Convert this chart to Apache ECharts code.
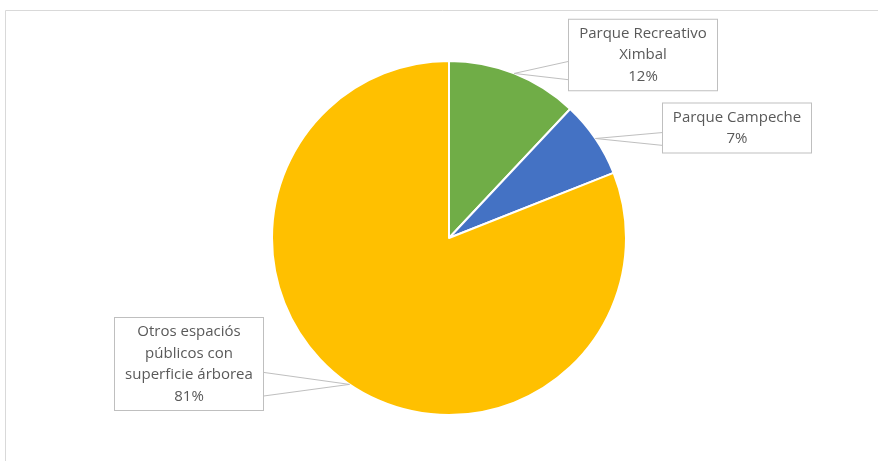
<!DOCTYPE html>
<html>
<head>
<meta charset="utf-8">
<script src="https://cdn.jsdelivr.net/npm/echarts@6/dist/echarts.min.js"></script>
<style>
html,body{margin:0;padding:0;background:#fff;}
#chart{width:878px;height:461px;}
</style>
</head>
<body>
<div id="chart"></div>
<script>
var categories = ['Parque Recreativo\nXimbal', 'Parque Campeche', 'Otros espaciós\npúblicos con\nsuperficie árborea'];
var values = [12, 7, 81];
var colors = ['#70AD47', '#4472C4', '#FFC000'];

// label box centres (layout only)
var labelPos = [[643, 55], [737, 128], [189, 364]];
// callout base span as fraction of box height (layout only)
var calloutSpan = [0.59, 0.84];

var chart = echarts.init(document.getElementById('chart'), null, {renderer: 'canvas'});
var option = {
  animation: false,
  backgroundColor: '#ffffff',
  graphic: [{
    id: 'frame', type: 'rect', silent: true, z: -1,
    shape: {x: 5.5, y: 10.5, width: 1000, height: 1000},
    style: {fill: 'none', stroke: '#D9D9D9', lineWidth: 1}
  }],
  series: [{
    type: 'pie',
    center: [449, 238],
    radius: 177,
    startAngle: 90,
    clockwise: true,
    data: categories.map(function (c, i) {
      return {name: c, value: values[i], itemStyle: {color: colors[i]}};
    }),
    itemStyle: {borderColor: '#ffffff', borderWidth: 2},
    label: {
      show: true,
      formatter: function (p) { return p.name + '\n' + p.value + '%'; },
      fontFamily: 'Open Sans',
      fontSize: 15,
      color: '#595959',
      lineHeight: 21.5,
      align: 'center',
      width: 134,
      padding: [3, 7, 3, 7],
      backgroundColor: '#ffffff',
      borderColor: '#BFBFBF',
      borderWidth: 1
    },
    labelLine: {show: false},
    labelLayout: function (params) {
      var p = labelPos[params.dataIndex];
      return {x: p[0], y: p[1], align: 'center', verticalAlign: 'middle'};
    },
    emphasis: {disabled: true}
  }]
};
chart.setOption(option);

function drawCallouts() {
  var model = chart.getModel();
  var series = model.getSeriesByIndex(0);
  var data = series.getData();
  var els = [];
  for (var i = 0; i < data.count(); i++) {
    var lay = data.getItemLayout(i);
    var mid = (lay.startAngle + lay.endAngle) / 2;
    var tip = [lay.cx + lay.r * Math.cos(mid), lay.cy + lay.r * Math.sin(mid)];
    var g = data.getItemGraphicEl(i);
    var label = g && g.getTextContent();
    if (!label) continue;
    var rect = label.getBoundingRect().clone();
    label.updateTransform && label.updateTransform();
    var m = label.getComputedTransform ? label.getComputedTransform() : label.transform;
    if (m) rect.applyTransform(m);
    var ex = tip[0] < rect.x ? rect.x : rect.x + rect.width;
    var b1 = [ex, rect.y + rect.height * calloutSpan[0]];
    var b2 = [ex, rect.y + rect.height * calloutSpan[1]];
    els.push({
      type: 'polygon', silent: true, z: 100,
      shape: {points: [b1, tip, b2]},
      style: {fill: '#ffffff', stroke: 'none'}
    });
    els.push({
      type: 'polyline', silent: true, z: 101,
      shape: {points: [b1, tip, b2]},
      style: {stroke: '#BFBFBF', lineWidth: 1, fill: 'none'}
    });
  }
  chart.setOption({graphic: els.map(function (e, k) { e.id = 'co' + k; return e; })});
}
drawCallouts();
</script>
</body>
</html>
